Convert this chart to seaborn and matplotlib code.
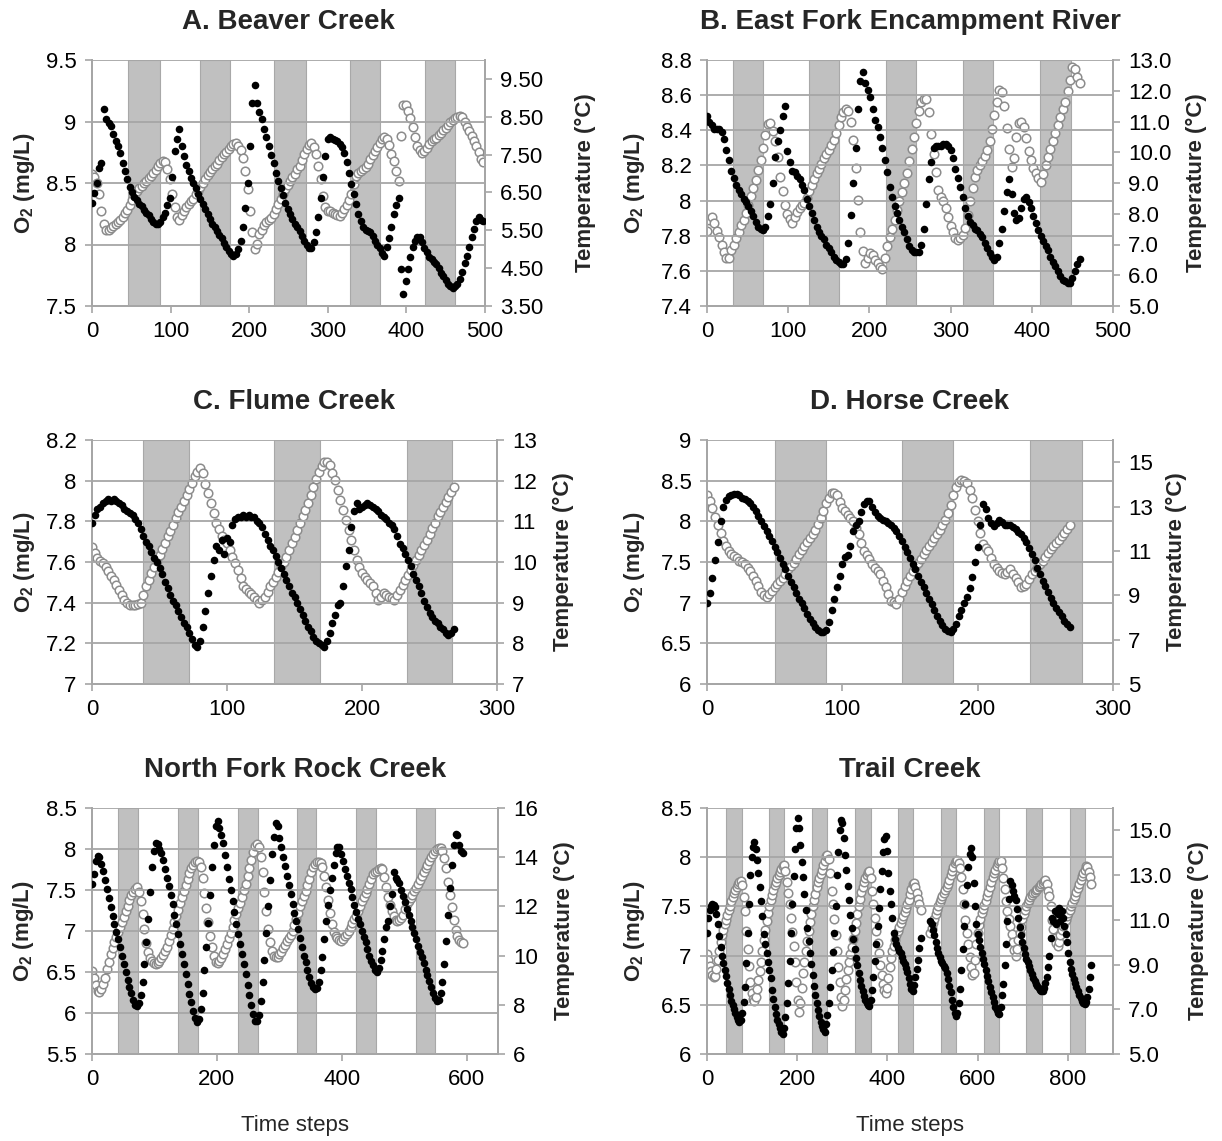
import numpy as np
import matplotlib
matplotlib.use("Agg")
import matplotlib.pyplot as plt
import seaborn as sns
from matplotlib.ticker import FixedLocator, FuncFormatter

nan = np.nan

# ---------------- data ----------------
# A. Beaver Creek (every 3rd time step)
a_t = list(range(0, 499, 3))
a_o2 = [8.34, 8.42, 8.50, 8.62, 8.66, 9.10, 9.02, 8.99, 8.96, 8.90,
        8.84, 8.80, 8.74, 8.66, 8.60, 8.53, 8.47, 8.43, 8.39, 8.36,
        8.33, 8.31, 8.28, 8.26, 8.24, 8.21, 8.18, 8.17, 8.17, 8.18,
        8.22, 8.26, 8.32, 8.38, 8.55, 8.76, 8.86, 8.94, 8.80, 8.72,
        8.65, 8.60, 8.54, 8.50, 8.46, 8.41, 8.37, 8.33, 8.29, 8.25,
        8.21, 8.17, 8.14, 8.11, 8.08, 8.05, 8.01, 7.98, 7.95, 7.92,
        7.91, 7.92, 7.96, 8.03, 8.14, 8.30, 8.50, 8.80, 9.15, 9.30,
        9.15, 9.08, 9.02, 8.94, 8.87, 8.80, 8.73, 8.66, 8.58, 8.52,
        8.46, 8.40, 8.34, 8.29, 8.25, 8.21, 8.17, 8.14, 8.11, 8.07,
        8.03, 8.00, 7.97, 7.97, 8.02, 8.10, 8.22, 8.38, 8.55, 8.72,
        8.86, 8.87, 8.86, 8.85, 8.84, 8.82, 8.79, 8.74, 8.67, 8.58,
        8.49, 8.41, 8.33, 8.25, 8.19, 8.14, 8.12, 8.11, 8.10, 8.07,
        8.03, 8.00, 7.97, 7.93, 7.91, 7.98, 8.05, 8.14, 8.25, 8.32,
        8.38, 7.80, 7.60, 7.70, 7.80, 7.90, 7.98, 8.03, 8.06, 8.06,
        8.02, 7.97, 7.94, 7.90, 7.88, 7.86, 7.84, 7.81, 7.77, 7.74,
        7.71, 7.68, 7.66, 7.65, 7.66, 7.68, 7.72, 7.78, 7.85, 7.91,
        7.98, 8.06, 8.13, 8.19, 8.22, 8.20, 8.19]
a_temp = [6.99, 6.92, 6.75, 6.45, 6.00, 5.67, 5.52, 5.50, 5.56, 5.62,
          5.67, 5.72, 5.78, 5.86, 5.95, 6.04, 6.16, 6.29, 6.42, 6.54,
          6.63, 6.68, 6.74, 6.81, 6.87, 6.94, 7.02, 7.10, 7.21, 7.29,
          7.34, 7.30, 7.12, 6.85, 6.45, 6.11, 5.85, 5.78, 5.90, 6.00,
          6.11, 6.19, 6.27, 6.34, 6.45, 6.55, 6.65, 6.76, 6.86, 6.95,
          7.03, 7.11, 7.19, 7.26, 7.35, 7.44, 7.51, 7.58, 7.66, 7.73,
          7.79, 7.80, 7.74, 7.63, 7.40, 7.07, 6.60, 6.00, 5.45, 5.00,
          5.15, 5.40, 5.52, 5.63, 5.71, 5.76, 5.83, 5.93, 6.07, 6.20,
          6.33, 6.46, 6.59, 6.69, 6.79, 6.90, 7.00, 7.11, 7.21, 7.36,
          7.51, 7.65, 7.76, 7.82, 7.70, 7.51, 7.20, 6.85, 6.40, 6.12,
          6.02, 6.00, 5.96, 5.93, 5.90, 5.89, 5.96, 6.05, 6.16, 6.30,
          6.46, 6.72, 6.93, 7.01, 7.07, 7.12, 7.17, 7.25, 7.38, 7.49,
          7.60, 7.70, 7.81, 7.92, 7.96, 7.90, 7.75, 7.52, 7.32, 7.08,
          6.81, 8.00, 8.82, 8.80, 8.66, 8.47, 8.22, 7.96, 7.74, 7.62,
          7.55, 7.59, 7.67, 7.78, 7.85, 7.90, 7.95, 8.01, 8.06, 8.14,
          8.21, 8.29, 8.36, 8.42, 8.46, 8.49, 8.51, 8.50, 8.36, 8.23,
          8.12, 7.99, 7.86, 7.73, 7.58, 7.38, 7.30]
a_night = [(46, 86), (137, 176), (232, 272), (328, 366), (424, 462)]

# B. East Fork Encampment River (every 3rd time step)
b_t = list(range(0, 460, 3))
b_o2 = [8.48, 8.45, 8.43, 8.41, 8.41, 8.41, 8.39, 8.35, 8.29, 8.23,
        8.17, 8.13, 8.09, 8.06, 8.04, 8.01, 7.99, 7.97, 7.94, 7.91,
        7.88, 7.85, 7.84, 7.83, 7.85, 7.91, 7.98, 8.10, 8.25, 8.34,
        8.40, 8.48, 8.54, 8.28, 8.22, 8.17, 8.16, 8.14, 8.12, 8.09,
        8.06, 8.01, 7.97, 7.93, 7.89, 7.85, 7.82, 7.80, 7.78, 7.75,
        7.73, 7.71, 7.68, 7.66, 7.65, 7.64, 7.64, 7.67, 7.76, 7.92,
        8.10, 8.30, 8.52, 8.68, 8.73, 8.67, 8.63, 8.59, 8.52, 8.46,
        8.42, 8.36, 8.30, 8.23, 8.16, 8.08, 8.02, 7.97, 7.93, 7.89,
        7.85, 7.82, 7.78, 7.74, 7.72, 7.71, 7.71, 7.71, 7.75, 7.84,
        7.98, 8.12, 8.22, 8.30, 8.31, 8.31, 8.31, 8.32, 8.32, 8.31,
        8.29, 8.24, 8.18, 8.13, 8.08, 8.02, 7.96, 7.91, 7.88, 7.86,
        7.84, 7.83, 7.81, 7.79, 7.76, 7.73, 7.70, 7.68, 7.66, 7.68,
        7.76, 7.84, 7.94, 8.05, 8.12, 8.04, 7.93, 7.89, 7.90, 7.96,
        8.01, 8.02, 7.99, 7.96, 7.91, 7.87, 7.83, 7.80, 7.77, 7.74,
        7.72, 7.68, 7.65, 7.63, 7.60, 7.57, 7.55, 7.54, 7.53, 7.53,
        7.56, 7.60, 7.64, 7.67]
b_temp = [7.43, 7.80, 7.88, 7.70, 7.45, 7.26, 7.00, 6.75, 6.55, 6.55,
          6.83, 7.00, 7.20, 7.42, 7.62, 7.80, 8.02, 8.28, 8.58, 8.85,
          9.10, 9.42, 9.75, 10.15, 10.55, 10.93, 10.95, 10.70, 10.35, 9.85,
          9.20, 8.75, 8.30, 8.00, 7.82, 7.70, 7.90, 8.05, 8.20, 8.27,
          8.34, 8.52, 8.73, 8.93, 9.12, 9.31, 9.47, 9.63, 9.80, 9.93,
          10.07, 10.22, 10.40, 10.63, 10.88, 11.15, 11.32, 11.42, 11.35, 11.00,
          10.39, 9.50, 8.45, 7.40, 6.80, 6.40, 6.55, 6.73, 6.65, 6.50,
          6.40, 6.28, 6.19, 6.55, 6.95, 7.26, 7.52, 7.80, 8.12, 8.42,
          8.72, 9.00, 9.32, 9.72, 10.10, 10.50, 10.95, 11.35, 11.62, 11.74,
          11.74, 11.30, 10.60, 9.95, 9.35, 8.77, 8.55, 8.40, 8.20, 7.90,
          7.59, 7.40, 7.22, 7.16, 7.20, 7.32, 7.55, 7.95, 8.40, 8.85,
          9.20, 9.42, 9.58, 9.70, 9.87, 10.07, 10.35, 10.75, 11.20, 11.65,
          12.01, 11.95, 11.50, 10.80, 10.10, 9.53, 9.80, 10.50, 10.95, 11.00,
          10.82, 10.45, 10.05, 9.75, 9.50, 9.31, 9.15, 9.04, 9.30, 9.60,
          9.85, 10.10, 10.38, 10.62, 10.88, 11.15, 11.40, 11.65, 11.98, 12.35,
          12.76, 12.70, 12.45, 12.25]
b_night = [(32, 69), (125, 163), (220, 258), (315, 352), (410, 448)]

# C. Flume Creek (every 2nd time step)
c_t = list(range(0, 269, 2))
c_o2 = [7.79, 7.83, 7.86, 7.87, 7.89, 7.90, 7.91, 7.90, 7.91, 7.90,
        7.89, 7.88, 7.86, 7.85, 7.84, 7.83, 7.81, 7.79, 7.76, 7.73,
        7.70, 7.68, 7.65, 7.62, 7.60, 7.57, 7.54, 7.50, 7.47, 7.44,
        7.41, 7.39, 7.36, 7.33, 7.30, 7.28, 7.25, 7.22, 7.19, 7.18,
        7.21, 7.28, 7.36, 7.45, 7.53, 7.61, 7.68, 7.66, 7.71, 7.64,
        7.72, 7.70, 7.78, 7.81, 7.82, 7.82, 7.83, 7.82, 7.83, 7.82,
        7.82, 7.80, 7.79, 7.77, 7.74, 7.71, 7.68, 7.66, 7.63, 7.60,
        7.57, 7.54, 7.51, 7.48, 7.45, 7.43, 7.40, 7.37, 7.34, 7.31,
        7.28, 7.26, 7.23, 7.21, 7.20, 7.19, 7.18, 7.21, 7.25, 7.30,
        7.34, 7.39, 7.40, 7.48, 7.58, 7.66, 7.77, 7.85, 7.89, 7.86,
        7.87, 7.88, 7.89, 7.88, 7.87, 7.86, 7.85, 7.83, 7.82, 7.81,
        7.79, 7.78, 7.76, 7.73, 7.69, 7.67, 7.64, 7.61, 7.58, 7.54,
        7.51, 7.48, 7.45, 7.41, 7.38, 7.35, 7.33, 7.31, 7.30, 7.28,
        7.27, 7.25, 7.24, 7.25, 7.27]
c_temp = [10.38, 10.22, 10.09, 10.03, 9.97, 9.87, 9.77, 9.66, 9.56, 9.44,
          9.32, 9.20, 9.07, 9.00, 8.95, 8.95, 8.95, 8.96, 8.99, 9.20,
          9.41, 9.56, 9.72, 9.87, 10.02, 10.17, 10.32, 10.47, 10.63, 10.77,
          10.92, 11.07, 11.22, 11.36, 11.50, 11.65, 11.80, 11.95, 12.11, 12.22,
          12.30, 12.18, 11.93, 11.70, 11.44, 11.20, 10.95, 10.80, 10.63, 10.55,
          10.46, 10.30, 10.13, 9.97, 9.81, 9.60, 9.40, 9.33, 9.27, 9.21,
          9.15, 9.07, 8.99, 9.07, 9.15, 9.27, 9.40, 9.52, 9.64, 9.76,
          9.89, 10.01, 10.13, 10.30, 10.46, 10.62, 10.79, 10.95, 11.12, 11.28,
          11.44, 11.65, 11.85, 12.03, 12.22, 12.35, 12.47, 12.45, 12.38, 12.20,
          12.02, 11.78, 11.53, 11.28, 11.03, 10.78, 10.54, 10.30, 10.05, 9.88,
          9.72, 9.64, 9.56, 9.48, 9.40, 9.23, 9.07, 9.15, 9.23, 9.19,
          9.15, 9.11, 9.07, 9.20, 9.32, 9.44, 9.56, 9.68, 9.81, 9.93,
          10.05, 10.17, 10.30, 10.42, 10.54, 10.68, 10.83, 10.97, 11.12, 11.24,
          11.36, 11.48, 11.61, 11.73, 11.85]
c_night = [(38, 72), (135, 169), (233, 267)]

# D. Horse Creek (every 2nd time step)
d_t = list(range(0, 269, 2))
d_o2 = [6.99, 7.12, 7.30, 7.52, 7.75, 8.00, 8.18, 8.26, 8.31, 8.32,
        8.33, 8.33, 8.32, 8.29, 8.27, 8.25, 8.23, 8.18, 8.13, 8.07,
        8.00, 7.94, 7.88, 7.82, 7.76, 7.69, 7.62, 7.55, 7.48, 7.41,
        7.33, 7.26, 7.19, 7.12, 7.05, 6.99, 6.93, 6.86, 6.80, 6.75,
        6.70, 6.66, 6.64, 6.64, 6.66, 6.76, 6.91, 7.05, 7.19, 7.33,
        7.48, 7.56, 7.58, 7.70, 7.88, 7.95, 8.00, 8.12, 8.21, 8.25,
        8.25, 8.18, 8.11, 8.07, 8.04, 8.02, 8.00, 7.98, 7.96, 7.92,
        7.88, 7.82, 7.76, 7.69, 7.62, 7.55, 7.48, 7.41, 7.33, 7.26,
        7.19, 7.12, 7.05, 6.98, 6.91, 6.84, 6.78, 6.73, 6.68, 6.65,
        6.64, 6.68, 6.74, 6.83, 6.91, 6.99, 7.07, 7.18, 7.31, 7.50,
        7.68, 7.95, 8.21, 8.15, 8.04, 7.98, 7.94, 7.98, 8.02, 7.99,
        7.96, 7.96, 7.96, 7.93, 7.90, 7.87, 7.84, 7.79, 7.74, 7.67,
        7.60, 7.52, 7.43, 7.35, 7.27, 7.20, 7.13, 7.06, 6.99, 6.94,
        6.89, 6.84, 6.78, 6.74, 6.70]
d_temp = [13.52, 13.25, 12.93, 12.55, 12.18, 11.80, 11.44, 11.20, 10.99, 10.88,
          10.77, 10.66, 10.55, 10.48, 10.40, 10.25, 10.10, 9.88, 9.65, 9.40,
          9.13, 9.00, 8.91, 9.05, 9.21, 9.36, 9.51, 9.65, 9.80, 9.98,
          10.17, 10.32, 10.47, 10.65, 10.84, 11.03, 11.22, 11.40, 11.59, 11.78,
          11.96, 12.22, 12.48, 12.80, 13.15, 13.40, 13.59, 13.60, 13.52, 13.22,
          12.93, 12.78, 12.63, 12.48, 12.33, 12.05, 11.74, 11.35, 10.99, 10.80,
          10.62, 10.43, 10.25, 10.10, 9.95, 9.65, 9.36, 9.06, 8.76, 8.68,
          8.61, 8.85, 9.13, 9.40, 9.65, 9.88, 10.10, 10.28, 10.47, 10.65,
          10.84, 11.03, 11.22, 11.40, 11.59, 11.78, 11.96, 12.18, 12.41, 12.72,
          13.07, 13.50, 13.89, 14.10, 14.19, 14.15, 14.04, 13.75, 13.37, 12.85,
          12.33, 11.80, 11.29, 11.15, 10.99, 10.70, 10.40, 10.25, 10.10, 10.02,
          9.95, 10.06, 10.17, 9.98, 9.80, 9.58, 9.36, 9.44, 9.51, 9.73,
          9.95, 10.10, 10.25, 10.40, 10.55, 10.74, 10.92, 11.07, 11.22, 11.37,
          11.51, 11.66, 11.81, 12.00, 12.18]
d_night = [(50, 88), (144, 182), (239, 277)]

# North Fork Rock Creek (every 3rd time step)
e_t = list(range(0, 595, 3))
e_o2 = [7.57, 7.70, 7.85, 7.92, 7.90, 7.82, 7.73, 7.62, 7.51, 7.40,
        7.29, 7.18, 7.08, 6.99, 6.90, 6.80, 6.70, 6.60, 6.50, 6.40,
        6.32, 6.24, 6.16, 6.10, 6.08, 6.12, 6.22, 6.38, 6.60, 6.86,
        7.15, 7.48, 7.78, 7.98, 8.07, 8.06, 8.00, 7.95, 7.87, 7.76,
        7.65, 7.55, 7.44, 7.33, 7.20, 7.08, 6.96, 6.84, 6.72, 6.60,
        6.47, 6.35, 6.23, 6.13, 6.03, 5.94, 5.89, 5.93, 6.05, 6.25,
        6.52, 6.80, 7.10, 7.44, 7.78, 8.05, 8.28, 8.34, 8.26, 8.17,
        8.07, 7.93, 7.78, 7.64, 7.50, 7.37, 7.23, 7.09, 6.96, 6.84,
        6.72, 6.60, 6.47, 6.34, 6.22, 6.10, 5.99, 5.90, 5.90, 5.98,
        6.15, 6.38, 6.65, 6.98, 7.30, 7.62, 7.94, 8.15, 8.32, 8.28,
        8.14, 8.02, 7.90, 7.79, 7.67, 7.56, 7.45, 7.33, 7.22, 7.12,
        7.02, 6.91, 6.80, 6.70, 6.62, 6.53, 6.44, 6.37, 6.32, 6.29,
        6.31, 6.38, 6.52, 6.68, 6.90, 7.12, 7.32, 7.50, 7.65, 7.80,
        7.95, 8.03, 8.02, 7.94, 7.85, 7.76, 7.67, 7.59, 7.51, 7.42,
        7.32, 7.23, 7.15, 7.08, 7.00, 6.93, 6.86, 6.78, 6.70, 6.64,
        6.58, 6.52, 6.50, 6.55, 6.65, 6.76, 6.90, 7.05, 7.12, 7.30,
        7.45, 7.72, 7.65, 7.62, 7.58, 7.50, 7.43, 7.35, 7.27, 7.19,
        7.12, 7.05, 6.97, 6.90, 6.82, 6.75, 6.68, 6.61, 6.53, 6.46,
        6.39, 6.32, 6.24, 6.18, 6.15, 6.16, 6.24, 6.38, 6.60, 6.88,
        7.20, 7.52, 7.80, 8.05, 8.18, 8.17, 8.05, 7.98, 7.95]
e_temp = [9.39, 9.10, 8.80, 8.55, 8.52, 8.65, 8.85, 9.10, 9.45, 9.75,
          10.05, 10.30, 10.55, 10.75, 10.95, 11.15, 11.35, 11.58, 11.80, 12.03,
          12.25, 12.45, 12.60, 12.72, 12.78, 12.60, 12.20, 11.70, 11.10, 10.50,
          10.15, 9.90, 9.79, 9.70, 9.66, 9.70, 9.80, 9.90, 10.02, 10.18,
          10.34, 10.58, 10.84, 11.10, 11.35, 11.60, 11.86, 12.12, 12.37, 12.63,
          12.88, 13.13, 13.35, 13.55, 13.70, 13.82, 13.86, 13.80, 13.60, 13.15,
          12.55, 11.95, 11.35, 10.80, 10.34, 10.00, 9.75, 9.68, 9.78, 9.90,
          10.05, 10.25, 10.47, 10.70, 10.93, 11.18, 11.43, 11.68, 11.92, 12.15,
          12.37, 12.65, 12.93, 13.22, 13.55, 13.88, 14.20, 14.45, 14.54, 14.40,
          14.00, 13.40, 12.60, 11.80, 11.10, 10.55, 10.20, 10.00, 9.93, 9.95,
          10.05, 10.15, 10.30, 10.45, 10.61, 10.73, 10.85, 11.00, 11.25, 11.50,
          11.75, 12.00, 12.23, 12.43, 12.63, 12.85, 13.10, 13.38, 13.60, 13.72,
          13.79, 13.80, 13.75, 13.60, 13.25, 12.80, 12.25, 11.75, 11.28, 10.95,
          10.80, 10.72, 10.65, 10.61, 10.68, 10.78, 10.88, 11.02, 11.16, 11.33,
          11.48, 11.63, 11.80, 12.02, 12.23, 12.38, 12.53, 12.70, 12.90, 13.12,
          13.30, 13.40, 13.45, 13.52, 13.58, 13.50, 13.20, 12.80, 12.40, 12.05,
          11.83, 11.60, 11.45, 11.42, 11.45, 11.52, 11.65, 11.88, 12.10, 12.23,
          12.36, 12.48, 12.62, 12.75, 12.90, 13.08, 13.25, 13.40, 13.55, 13.70,
          13.85, 14.00, 14.15, 14.26, 14.33, 14.38, 14.36, 14.25, 13.95, 13.55,
          13.00, 12.45, 11.96, 11.45, 11.05, 10.80, 10.65, 10.55, 10.50]
e_night = [(42, 74), (137, 169), (233, 265), (328, 359), (423, 455), (518, 549)]

# Trail Creek (every 3rd time step; logger gap around 477-492)
f_t = list(range(0, 853, 3))
f_o2 = [7.23, 7.38, 7.46, 7.50, 7.52, 7.51, 7.49, 7.42, 7.32, 7.20,
        7.09, 7.00, 6.92, 6.85, 6.79, 6.72, 6.66, 6.60, 6.54, 6.50,
        6.46, 6.42, 6.38, 6.35, 6.33, 6.35, 6.42, 6.53, 6.68, 6.92,
        7.23, 7.52, 7.82, 8.00, 8.10, 8.15, 8.08, 7.97, 7.84, 7.70,
        7.55, 7.40, 7.22, 7.12, 7.03, 6.94, 6.85, 6.77, 6.65, 6.56,
        6.48, 6.41, 6.35, 6.30, 6.26, 6.22, 6.20, 6.26, 6.38, 6.52,
        6.72, 6.95, 7.23, 7.52, 7.81, 8.08, 8.30, 8.40, 8.30, 8.12,
        7.95, 7.80, 7.63, 7.46, 7.28, 7.15, 7.03, 6.91, 6.80, 6.69,
        6.60, 6.52, 6.45, 6.39, 6.33, 6.28, 6.25, 6.22, 6.30, 6.40,
        6.52, 6.68, 6.85, 7.04, 7.23, 7.50, 7.82, 8.05, 8.28, 8.38,
        8.35, 8.20, 8.02, 7.87, 7.71, 7.56, 7.41, 7.28, 7.17, 7.07,
        6.98, 6.90, 6.82, 6.75, 6.69, 6.64, 6.59, 6.55, 6.52, 6.50,
        6.49, 6.55, 6.65, 6.78, 6.95, 7.12, 7.30, 7.48, 7.68, 7.86,
        8.05, 8.18, 8.22, 8.06, 7.84, 7.66, 7.52, 7.38, 7.23, 7.17,
        7.12, 7.08, 7.05, 7.03, 6.99, 6.95, 6.91, 6.87, 6.83, 6.77,
        6.71, 6.66, 6.64, 6.70, 6.78, 6.86, 6.96, 7.08, 7.18, nan,
        nan, nan, nan, nan, nan, 7.35, 7.32, 7.26, 7.21, 7.14,
        7.08, 7.03, 6.99, 6.95, 6.92, 6.89, 6.87, 6.82, 6.76, 6.69,
        6.63, 6.55, 6.48, 6.42, 6.39, 6.42, 6.52, 6.66, 6.85, 7.07,
        7.30, 7.52, 7.72, 7.90, 8.03, 8.09, 8.00, 7.74, 7.50, 7.32,
        7.22, 7.16, 7.09, 7.03, 6.97, 6.91, 6.85, 6.79, 6.74, 6.68,
        6.63, 6.58, 6.53, 6.48, 6.45, 6.42, 6.41, 6.48, 6.60, 6.71,
        6.90, 7.12, 7.35, 7.58, 7.76, 7.72, 7.66, 7.61, 7.56, 7.47,
        7.38, 7.29, 7.21, 7.14, 7.08, 7.02, 6.97, 6.93, 6.89, 6.85,
        6.81, 6.77, 6.74, 6.71, 6.69, 6.67, 6.65, 6.64, 6.64, 6.67,
        6.72, 6.78, 6.88, 7.00, 7.18, 7.38, 7.35, 7.45, 7.32, 7.42,
        7.48, 7.35, 7.45, 7.38, 7.30, 7.22, 7.14, 7.03, 6.93, 6.86,
        6.81, 6.76, 6.72, 6.68, 6.64, 6.60, 6.57, 6.54, 6.52, 6.51,
        6.53, 6.58, 6.66, 6.78, 6.90]
f_temp = [9.46, 9.20, 8.95, 8.70, 8.52, 8.43, 8.48, 8.80, 9.20, 9.60,
          10.00, 10.30, 10.55, 10.80, 11.00, 11.22, 11.42, 11.62, 11.82, 12.02,
          12.21, 12.35, 12.48, 12.60, 12.68, 12.73, 12.55, 12.00, 11.40, 10.50,
          9.68, 8.95, 8.20, 7.75, 7.48, 7.38, 7.55, 7.90, 8.30, 8.70,
          9.10, 9.60, 10.10, 10.55, 10.95, 11.30, 11.62, 11.90, 12.12, 12.35,
          12.55, 12.70, 12.85, 13.00, 13.15, 13.28, 13.40, 13.47, 13.20, 12.70,
          12.20, 11.70, 11.10, 10.45, 9.85, 9.10, 8.20, 7.40, 6.86, 7.30,
          7.95, 8.60, 9.10, 9.60, 10.05, 10.50, 10.90, 11.25, 11.60, 11.90,
          12.15, 12.45, 12.70, 12.88, 13.05, 13.25, 13.45, 13.65, 13.85, 13.90,
          13.70, 13.10, 12.30, 11.70, 11.05, 10.30, 9.60, 8.90, 8.20, 7.55,
          7.15, 7.40, 7.85, 8.35, 8.75, 9.10, 9.45, 9.80, 10.15, 10.50,
          10.87, 11.25, 11.60, 11.95, 12.25, 12.48, 12.70, 12.88, 13.02, 13.12,
          13.17, 12.85, 12.30, 11.70, 11.10, 10.50, 9.95, 9.50, 9.00, 8.55,
          8.15, 7.85, 7.75, 7.95, 8.40, 8.90, 9.30, 9.60, 9.85, 10.10,
          10.30, 10.50, 10.68, 10.87, 11.03, 11.18, 11.35, 11.52, 11.70, 11.90,
          12.15, 12.40, 12.58, 12.65, 12.45, 12.20, 11.95, 11.70, 11.45, nan,
          nan, nan, nan, nan, nan, 10.42, 10.65, 10.85, 11.05, 11.25,
          11.46, 11.62, 11.78, 11.91, 12.05, 12.20, 12.33, 12.48, 12.62, 12.78,
          13.00, 13.20, 13.38, 13.52, 13.62, 13.69, 13.55, 13.30, 12.90, 12.40,
          11.70, 11.00, 10.40, 9.90, 9.35, 8.90, 8.55, 8.60, 9.20, 9.90,
          10.42, 10.75, 11.05, 11.30, 11.50, 11.65, 11.85, 12.05, 12.25, 12.45,
          12.70, 12.90, 13.08, 13.25, 13.40, 13.55, 13.65, 13.62, 13.30, 12.85,
          12.36, 11.85, 11.40, 11.02, 10.72, 10.35, 10.00, 9.65, 9.40, 9.70,
          10.10, 10.40, 10.70, 11.02, 11.25, 11.45, 11.61, 11.75, 11.90, 12.02,
          12.10, 12.18, 12.25, 12.32, 12.38, 12.45, 12.52, 12.58, 12.66, 12.74,
          12.80, 12.60, 12.30, 12.06, 11.60, 11.00, 10.57, 10.20, 9.95, 9.85,
          10.00, 10.30, 10.55, 10.72, 10.85, 11.00, 11.15, 11.31, 11.45, 11.60,
          11.75, 11.91, 12.08, 12.26, 12.43, 12.60, 12.78, 12.95, 13.10, 13.25,
          13.40, 13.35, 13.15, 12.90, 12.60]
f_night = [(42, 77), (138, 171), (232, 267), (328, 363), (423, 457),
           (518, 553), (614, 648), (708, 743), (804, 838)]

titles = ["A. Beaver Creek", "B. East Fork Encampment River", "C. Flume Creek",
          "D. Horse Creek", "North Fork Rock Creek", "Trail Creek"]

# ---------------- styling ----------------
sns.set_theme(style="white")
plt.rcParams["font.family"] = ["Liberation Sans", "DejaVu Sans"]
plt.rcParams["mathtext.fontset"] = "custom"
plt.rcParams["mathtext.rm"] = "Liberation Sans"
plt.rcParams["mathtext.bf"] = "Liberation Sans:bold"

W, H = 1222, 1141
fig = plt.figure(figsize=(W / 100, H / 100), dpi=100, facecolor="white")

GRID = "#a6a6a6"
BAND = "#c0c0c0"
TEMPC = "#8c8c8c"

panels = [
    dict(t=a_t, o2=a_o2, temp=a_temp, night=a_night, box=(92, 60, 485, 306),
         xlim=(0, 500), xticks=[0, 100, 200, 300, 400, 500],
         ylim=(7.5, 9.5), yticks=[7.5, 8, 8.5, 9, 9.5],
         y2lim=(3.5, 10), y2ticks=[3.5, 4.5, 5.5, 6.5, 7.5, 8.5, 9.5], y2fmt="{:.2f}",
         lx=24.5, rx=585, xlab=False),
    dict(t=b_t, o2=b_o2, temp=b_temp, night=b_night, box=(707, 60, 1113, 306),
         xlim=(0, 500), xticks=[0, 100, 200, 300, 400, 500],
         ylim=(7.4, 8.8), yticks=[7.4, 7.6, 7.8, 8.0, 8.2, 8.4, 8.6, 8.8],
         y2lim=(5, 13), y2ticks=list(range(5, 14)), y2fmt="{:.1f}",
         lx=634.5, rx=1196, xlab=False),
    dict(t=c_t, o2=c_o2, temp=c_temp, night=c_night, box=(92, 440, 497, 684),
         xlim=(0, 300), xticks=[0, 100, 200, 300],
         ylim=(7.0, 8.2), yticks=[7.0, 7.2, 7.4, 7.6, 7.8, 8.0, 8.2],
         y2lim=(7, 13), y2ticks=list(range(7, 14)), y2fmt="{:g}",
         lx=24.5, rx=563, xlab=False),
    dict(t=d_t, o2=d_o2, temp=d_temp, night=d_night, box=(707, 440, 1113, 684),
         xlim=(0, 300), xticks=[0, 100, 200, 300],
         ylim=(6, 9), yticks=[6, 6.5, 7, 7.5, 8, 8.5, 9],
         y2lim=(5, 16), y2ticks=[5, 7, 9, 11, 13, 15], y2fmt="{:g}",
         lx=634.5, rx=1176, xlab=False),
    dict(t=e_t, o2=e_o2, temp=e_temp, night=e_night, box=(92, 808, 498, 1054),
         xlim=(0, 650), xticks=[0, 200, 400, 600],
         ylim=(5.5, 8.5), yticks=[5.5, 6, 6.5, 7, 7.5, 8, 8.5],
         y2lim=(6, 16), y2ticks=[6, 8, 10, 12, 14, 16], y2fmt="{:g}",
         lx=23.5, rx=564, xlab=True),
    dict(t=f_t, o2=f_o2, temp=f_temp, night=f_night, box=(707, 808, 1113, 1054),
         xlim=(0, 900), xticks=[0, 200, 400, 600, 800],
         ylim=(6, 8.5), yticks=[6, 6.5, 7, 7.5, 8, 8.5],
         y2lim=(5, 16), y2ticks=[5, 7, 9, 11, 13, 15], y2fmt="{:.1f}",
         lx=634.5, rx=1198, xlab=True),
]

for title, p in zip(titles, panels):
    l, t, r, b = p["box"]
    n = min(len(p["t"]), len(p["o2"]), len(p["temp"]))
    tt, oo, te = p["t"][:n], p["o2"][:n], p["temp"][:n]

    ax = fig.add_axes([l / W, 1 - b / H, (r - l) / W, (b - t) / H])
    ax2 = ax.twinx()
    ax.set_zorder(ax2.get_zorder() + 1)
    ax.patch.set_visible(False)
    ax2.patch.set_visible(True)
    ax2.patch.set_facecolor("white")

    for (s, e) in p["night"]:
        ax2.axvspan(s, e, facecolor=BAND, edgecolor="#a8a8a8", lw=0.8, zorder=0)

    sns.scatterplot(x=tt, y=te, ax=ax2, color="white", edgecolor=TEMPC,
                    s=38, linewidth=1.1, legend=False, zorder=2)
    sns.scatterplot(x=tt, y=oo, ax=ax, color="black", edgecolor="black",
                    s=30, linewidth=0, legend=False, zorder=3)

    ax.set_xlim(*p["xlim"])
    ax.set_ylim(*p["ylim"])
    ax2.set_ylim(*p["y2lim"])
    ax.xaxis.set_major_locator(FixedLocator(p["xticks"]))
    ax.yaxis.set_major_locator(FixedLocator(p["yticks"]))
    ax2.yaxis.set_major_locator(FixedLocator(p["y2ticks"]))
    ax.yaxis.set_major_formatter(FuncFormatter(lambda v, pos: f"{round(v, 3):g}"))
    fmt = p["y2fmt"]
    ax2.yaxis.set_major_formatter(FuncFormatter(lambda v, pos, fmt=fmt: fmt.format(v)))

    ax.grid(axis="y", color=GRID, lw=1.3)
    ax.grid(axis="x", visible=False)
    ax2.grid(False)

    for a in (ax, ax2):
        for sp in a.spines.values():
            sp.set_color(GRID)
            sp.set_linewidth(1.3)
        a.spines["top"].set_visible(False)

    ax.tick_params(axis="x", bottom=True, direction="out", length=5, width=1.2,
                   color=GRID, labelsize=16, pad=6, labelcolor="black")
    ax.tick_params(axis="y", left=True, direction="out", length=5, width=1.2,
                   color=GRID, labelsize=16, pad=6, labelcolor="black")
    ax2.tick_params(axis="y", right=True, direction="out", length=5, width=1.2,
                    color=GRID, labelsize=16, pad=6, labelcolor="black")

    ax.set_title(title, fontsize=20, fontweight="bold", pad=22)

    ax.set_ylabel(r"O$_\mathbf{2}$ (mg/L)", fontsize=16, fontweight="bold")
    ax.yaxis.set_label_coords((p["lx"] - l) / (r - l), 0.5)
    ax.yaxis.label.set_verticalalignment("center")
    ax2.set_ylabel("Temperature (°C)", fontsize=16, fontweight="bold")
    ax2.yaxis.set_label_coords((p["rx"] - l) / (r - l), 0.5)
    ax2.yaxis.label.set_verticalalignment("center")

    if p["xlab"]:
        ax.set_xlabel("Time steps", fontsize=16)
        ax.xaxis.set_label_coords(0.5, (b - 1126) / (b - t))
        ax.xaxis.label.set_verticalalignment("center")
    else:
        ax.set_xlabel("")

fig.savefig("out.png", dpi=100, facecolor="white")
